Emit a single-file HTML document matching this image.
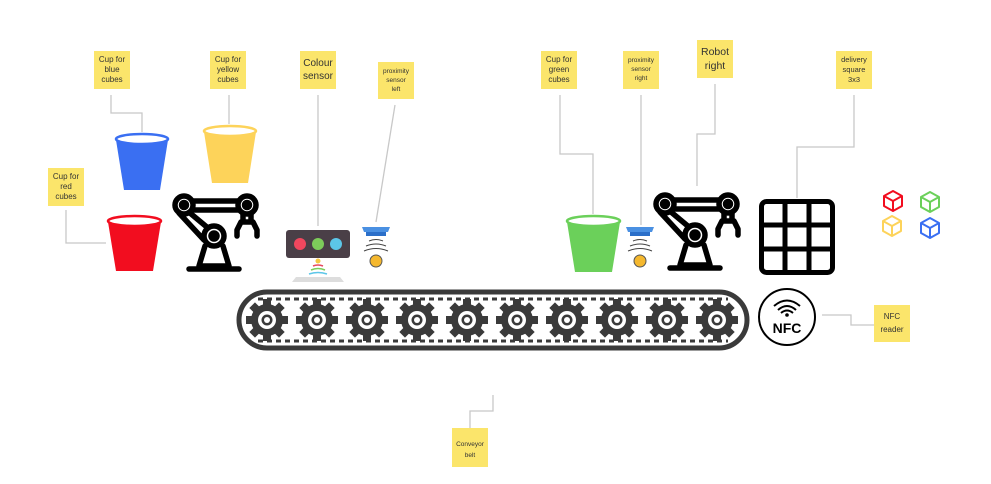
<!DOCTYPE html>
<html><head><meta charset="utf-8"><style>
html,body{margin:0;padding:0;background:#fff;width:991px;height:484px;overflow:hidden}
svg{display:block}
.n{fill:#fbe56b}
text{font-family:"Liberation Sans",sans-serif;fill:#333;text-anchor:middle}
.c{stroke:#c8c8c8;stroke-width:1.3;fill:none}
</style></head><body>
<svg width="991" height="484" viewBox="0 0 991 484">
<defs>
<g id="gear">
<circle r="16" fill="#3a3a3a"/>
<g fill="#3a3a3a">
<rect x="-4" y="-21" width="8" height="42"/>
<rect x="-21" y="-4" width="42" height="8"/>
<rect x="-4" y="-21" width="8" height="42" transform="rotate(45)"/>
<rect x="-4" y="-21" width="8" height="42" transform="rotate(-45)"/>
</g>
<circle r="9" fill="#fff"/>
<circle r="5.5" fill="#3a3a3a"/>
<circle r="3" fill="#fff"/>
</g>
<g id="robot" fill="none" stroke="#000" stroke-width="5.5" stroke-linejoin="round" stroke-linecap="round">
<circle cx="13" cy="13" r="9"/><circle cx="13" cy="13" r="2.5" fill="#000"/>
<circle cx="76" cy="13" r="9"/><circle cx="76" cy="13" r="2.5" fill="#000"/>
<circle cx="43" cy="44" r="10"/><circle cx="43" cy="44" r="3" fill="#000"/>
<path d="M22 9 H67 M22 18 H67"/>
<path d="M19 21 L37 36 M8 21 L33 48"/>
<path d="M72 22 V30 H80 V22 M70 30 L66 38 V44 M82 30 L86 38 V44"/>
<path d="M34 54 L28 74 H58 L52 54"/>
<path d="M18 77 H68"/>
</g>
<g id="prox">
<path d="M0 0 H28 L26 5 H2 Z" fill="#4a90e2"/>
<rect x="4" y="5" width="20" height="4" fill="#2b6fc9"/>
<path d="M7 14 Q14 11 21 14 M4 19 Q14 15 24 19 M2 24 Q14 19 26 24" stroke="#444" stroke-width="1" fill="none"/>
<circle cx="14" cy="34" r="6" fill="#f5b82e" stroke="#555" stroke-width="1"/>
</g>
<g id="cube" fill="none" stroke-width="2" stroke-linejoin="round">
<path d="M9 0 L18 5 V15 L9 20 L0 15 V5 Z M0 5 L9 10 L18 5 M9 10 V20"/>
</g>
</defs>

<!-- connectors -->
<path class="c" d="M111 95 V113 H142 V132"/>
<path class="c" d="M229 95 V124"/>
<path class="c" d="M318 95 V226"/>
<path class="c" d="M395 105 L376 222"/>
<path class="c" d="M66 210 V243 H106"/>
<path class="c" d="M560 95 V154 H593 V214"/>
<path class="c" d="M641 95 V225"/>
<path class="c" d="M715 84 V134 H697 V186"/>
<path class="c" d="M854 95 V147 H797 V198"/>
<path class="c" d="M822 315 H851 V325 H874"/>
<path class="c" d="M493 395 V411 H470 V428"/>

<!-- notes -->
<rect class="n" x="94" y="51" width="36" height="38"/>
<text font-size="8"><tspan x="112" y="62">Cup for</tspan><tspan x="112" y="72">blue</tspan><tspan x="112" y="82">cubes</tspan></text>
<rect class="n" x="210" y="51" width="36" height="38"/>
<text font-size="8"><tspan x="228" y="62">Cup for</tspan><tspan x="228" y="72">yellow</tspan><tspan x="228" y="82">cubes</tspan></text>
<rect class="n" x="300" y="51" width="36" height="38"/>
<text font-size="10"><tspan x="318" y="66">Colour</tspan><tspan x="318" y="79">sensor</tspan></text>
<rect class="n" x="378" y="62" width="36" height="37"/>
<text font-size="6.5"><tspan x="396" y="73">proximity</tspan><tspan x="396" y="82">sensor</tspan><tspan x="396" y="91">left</tspan></text>
<rect class="n" x="48" y="168" width="36" height="38"/>
<text font-size="8"><tspan x="66" y="179">Cup for</tspan><tspan x="66" y="189">red</tspan><tspan x="66" y="199">cubes</tspan></text>
<rect class="n" x="541" y="51" width="36" height="38"/>
<text font-size="8"><tspan x="559" y="62">Cup for</tspan><tspan x="559" y="72">green</tspan><tspan x="559" y="82">cubes</tspan></text>
<rect class="n" x="623" y="51" width="36" height="38"/>
<text font-size="6.5"><tspan x="641" y="62">proximity</tspan><tspan x="641" y="71">sensor</tspan><tspan x="641" y="80">right</tspan></text>
<rect class="n" x="697" y="40" width="36" height="38"/>
<text font-size="10.5"><tspan x="715" y="55">Robot</tspan><tspan x="715" y="69">right</tspan></text>
<rect class="n" x="836" y="51" width="36" height="38"/>
<text font-size="7.5"><tspan x="854" y="62">delivery</tspan><tspan x="854" y="72">square</tspan><tspan x="854" y="82">3x3</tspan></text>
<rect class="n" x="874" y="305" width="36" height="37"/>
<text font-size="8"><tspan x="892" y="319">NFC</tspan><tspan x="892" y="332">reader</tspan></text>
<rect class="n" x="452" y="428" width="36" height="39"/>
<text font-size="6.5"><tspan x="470" y="446">Conveyor</tspan><tspan x="470" y="457">belt</tspan></text>

<!-- cups -->
<g>
<path d="M116 140 L124 190 H160 L168 140 Z" fill="#3a6ff2"/>
<ellipse cx="142" cy="139" rx="26" ry="5" fill="#fff" stroke="#3a6ff2" stroke-width="2.5"/>
<path d="M204 132 L212 183 H248 L256 132 Z" fill="#fdd35a"/>
<ellipse cx="230" cy="131" rx="26" ry="5" fill="#fff" stroke="#fdd35a" stroke-width="2.5"/>
<path d="M108 222 L116 271 H153 L161 222 Z" fill="#f20d1f"/>
<ellipse cx="134.5" cy="221" rx="26.5" ry="5" fill="#fff" stroke="#f20d1f" stroke-width="2.5"/>
<path d="M567 222 L575 272 H612 L620 222 Z" fill="#6bd05a"/>
<ellipse cx="593.5" cy="221" rx="26.5" ry="5" fill="#fff" stroke="#6bd05a" stroke-width="2.5"/>
</g>

<!-- robots -->
<use href="#robot" x="171" y="192"/>
<use href="#robot" x="652" y="191"/>

<!-- colour sensor -->
<rect x="286" y="230" width="64" height="28" rx="3" fill="#4a3f47"/>
<circle cx="300" cy="244" r="6" fill="#f0475e"/>
<circle cx="318" cy="244" r="6" fill="#7dcc5a"/>
<circle cx="336" cy="244" r="6" fill="#5cc6e8"/>
<circle cx="318" cy="261" r="2.5" fill="#f5c842"/>
<path d="M313 266 Q318 264 323 266" stroke="#e84a5f" stroke-width="1.5" fill="none"/>
<path d="M311 270 Q318 267 325 270" stroke="#7dcc5a" stroke-width="1.5" fill="none"/>
<path d="M309 274 Q318 271 327 274" stroke="#5cc6e8" stroke-width="1.5" fill="none"/>
<path d="M292 282 L296 277 H340 L344 282 Z" fill="#ddd"/>

<!-- prox sensors -->
<use href="#prox" x="362" y="227"/>
<use href="#prox" x="626" y="227"/>

<!-- grid -->
<g fill="none" stroke="#000" stroke-width="5">
<rect x="761.5" y="201.5" width="71" height="71" rx="5"/>
<path d="M785 201 V273 M809 201 V273 M761 225 H833 M761 249 H833"/>
</g>

<!-- cubes -->
<use href="#cube" x="884" y="191" stroke="#f20d1f"/>
<use href="#cube" x="921" y="192" stroke="#6bd05a"/>
<use href="#cube" x="883" y="216" stroke="#fdd35a"/>
<use href="#cube" x="921" y="218" stroke="#3a6ff2"/>

<!-- conveyor -->
<rect x="239" y="292" width="508" height="56" rx="28" fill="none" stroke="#3a3a3a" stroke-width="5"/>
<g stroke="#3a3a3a" stroke-width="3" stroke-dasharray="5 4">
<path d="M258 299 H728 M258 341 H728"/>
</g>
<use href="#gear" x="267" y="320"/>
<use href="#gear" x="317" y="320"/>
<use href="#gear" x="367" y="320"/>
<use href="#gear" x="417" y="320"/>
<use href="#gear" x="467" y="320"/>
<use href="#gear" x="517" y="320"/>
<use href="#gear" x="567" y="320"/>
<use href="#gear" x="617" y="320"/>
<use href="#gear" x="667" y="320"/>
<use href="#gear" x="717" y="320"/>

<!-- NFC -->
<ellipse cx="787" cy="317" rx="28" ry="28" fill="#fff" stroke="#000" stroke-width="2"/>
<path d="M778 310 Q787 302 796 310 M781 313 Q787 308 793 313 M774 306 Q787 295 800 306" stroke="#000" stroke-width="2" fill="none"/>
<circle cx="787" cy="315" r="1.8" fill="#000"/>
<text x="787" y="333" font-size="14" font-weight="bold" style="fill:#000">NFC</text>
</svg>
</body></html>
